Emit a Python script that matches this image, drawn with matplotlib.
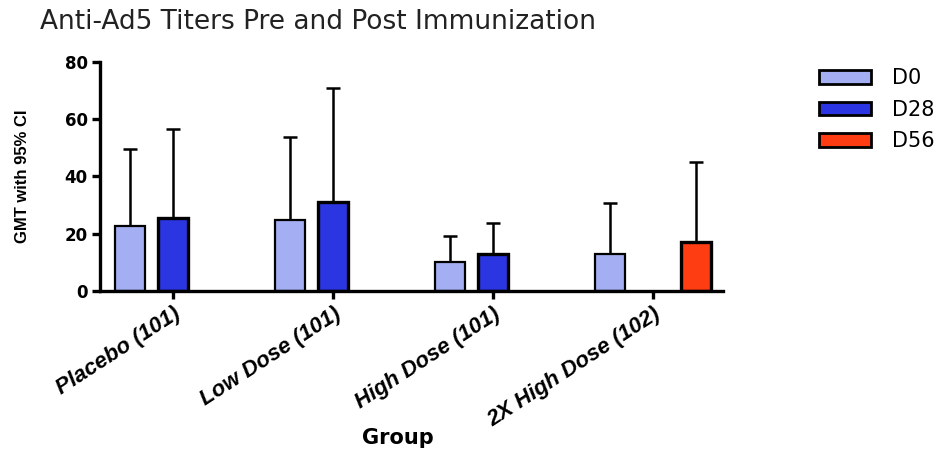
import numpy as np
import matplotlib.pyplot as plt
from matplotlib.patches import Patch

plt.rcParams['font.family'] = ['Liberation Sans', 'DejaVu Sans']

groups = ["Placebo (101)", "Low Dose (101)", "High Dose (101)", "2X High Dose (102)"]
series = ["D0", "D28", "D56"]
colors = ["#a3aff2", "#2b36e2", "#ff3d12"]

# geometric mean titers and upper 95% CI, nan = not measured
gmt = {
    "D0":  [22.5, 24.6, 10.2, 12.8],
    "D28": [25.4, 31.0, 12.8, np.nan],
    "D56": [np.nan, np.nan, np.nan, 17.2],
}
upper = {
    "D0":  [49.6, 53.6, 19.0, 30.6],
    "D28": [56.6, 70.8, 23.6, np.nan],
    "D56": [np.nan, np.nan, np.nan, 45.0],
}

fig = plt.figure(figsize=(9.53, 4.51), dpi=100)
ax = fig.add_axes([0.105, 0.355, 0.654, 0.508])

x = np.arange(len(groups))
slot = 0.27
width = 0.19
for i, s in enumerate(series):
    vals = np.array(gmt[s])
    up = np.array(upper[s])
    ok = ~np.isnan(vals)
    xs = x[ok] + (i - 1) * slot
    ax.bar(xs, vals[ok], width, color=colors[i], edgecolor="black",
           linewidth=1.6 if i == 0 else 2.4, zorder=2)
    ax.errorbar(xs, vals[ok], yerr=[np.zeros(ok.sum()), up[ok] - vals[ok]],
                fmt="none", ecolor="black", elinewidth=1.8, capsize=5,
                capthick=1.8, zorder=1)

ax.set_xlim(-0.456, 3.44)
ax.set_ylim(0, 80)
ax.set_yticks([0, 20, 40, 60, 80])
ax.set_xticks(x)
ax.set_xticklabels(groups, rotation=33, ha="right", rotation_mode="anchor",
                   fontstyle="italic", fontweight="bold", fontsize=16)
for lab in ax.get_yticklabels():
    lab.set_fontweight("bold")
    lab.set_fontsize(12)
    lab.set_fontfamily("DejaVu Sans")

for side in ["top", "right"]:
    ax.spines[side].set_visible(False)
ax.spines["left"].set_linewidth(2.4)
ax.spines["bottom"].set_linewidth(2.4)
ax.tick_params(axis="both", direction="out", length=6, width=2.4, pad=3)

ax.set_ylabel("GMT with 95% CI", fontsize=12, fontweight="bold")
ax.yaxis.set_label_coords(-0.112, 0.5)
ax.set_xlabel("Group", fontsize=15, fontweight="bold", family="DejaVu Sans")
ax.xaxis.set_label_coords(0.478, -0.6)

fig.text(0.042, 0.935, "Anti-Ad5 Titers Pre and Post Immunization", fontsize=19,
         color="#222222", family="DejaVu Sans")

handles = [Patch(facecolor=c, edgecolor="black", linewidth=2) for c in colors]
fig.legend(handles, series, loc="upper left", bbox_to_anchor=(0.84, 0.89),
           frameon=False, prop={"family": "DejaVu Sans", "size": 15},
           handlelength=2.5, handleheight=0.6, labelspacing=0.55,
           handletextpad=1.0)

fig.savefig("out.png", dpi=100)
